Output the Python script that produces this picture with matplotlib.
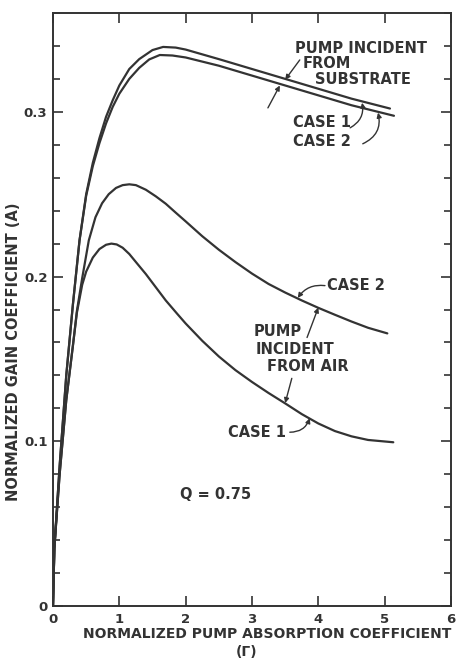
import matplotlib
matplotlib.use("Agg")
import matplotlib.pyplot as plt

# ---- data ----
sub1_x = [0, 0.02, 0.1, 0.2, 0.3, 0.4, 0.5, 0.6, 0.7, 0.8, 0.9, 1.0, 1.15, 1.3, 1.5, 1.66, 1.85, 2.0, 2.5, 3.0, 3.5, 4.0, 4.5, 5.08]
sub1_A = [0, 0.035, 0.085, 0.14, 0.183, 0.222, 0.25, 0.269, 0.284, 0.297, 0.307, 0.316, 0.326, 0.332, 0.3375, 0.3394, 0.339, 0.3378, 0.332, 0.326, 0.320, 0.314, 0.308, 0.302]

sub2_x = [0, 0.02, 0.1, 0.2, 0.3, 0.4, 0.5, 0.6, 0.7, 0.8, 0.9, 1.0, 1.15, 1.3, 1.45, 1.61, 1.8, 2.0, 2.5, 3.0, 3.5, 4.0, 4.5, 5.14]
sub2_A = [0, 0.035, 0.085, 0.14, 0.183, 0.222, 0.249, 0.267, 0.281, 0.293, 0.303, 0.311, 0.320, 0.3267, 0.3318, 0.3345, 0.3342, 0.333, 0.328, 0.322, 0.316, 0.310, 0.304, 0.2976]

air2_x = [0, 0.02, 0.1, 0.2, 0.3, 0.36, 0.44, 0.54, 0.64, 0.74, 0.84, 0.95, 1.05, 1.15, 1.25, 1.4, 1.55, 1.7, 1.85, 2.0, 2.25, 2.5, 2.75, 3.0, 3.25, 3.5, 3.75, 4.0, 4.25, 4.5, 4.75, 5.04]
air2_A = [0, 0.035, 0.08, 0.125, 0.158, 0.179, 0.199, 0.222, 0.236, 0.2445, 0.250, 0.2538, 0.2555, 0.256, 0.2555, 0.2527, 0.2487, 0.2442, 0.2388, 0.2335, 0.2245, 0.2163, 0.2088, 0.2018, 0.1955, 0.1903, 0.1855, 0.1810, 0.1768, 0.1727, 0.1689, 0.1655]

air1_x = [0, 0.02, 0.1, 0.2, 0.3, 0.36, 0.44, 0.5, 0.6, 0.7, 0.8, 0.88, 0.96, 1.05, 1.15, 1.25, 1.4, 1.55, 1.7, 1.87, 2.0, 2.25, 2.5, 2.75, 3.0, 3.25, 3.5, 3.75, 4.0, 4.25, 4.5, 4.75, 5.13]
air1_A = [0, 0.035, 0.08, 0.125, 0.158, 0.178, 0.195, 0.203, 0.2115, 0.2167, 0.2193, 0.220, 0.2195, 0.2175, 0.2137, 0.2088, 0.2015, 0.1935, 0.1855, 0.1775, 0.1715, 0.1610, 0.1515, 0.1432, 0.1360, 0.1293, 0.1230, 0.1165, 0.1108, 0.1062, 0.1030, 0.1008, 0.0994]

x_ticks = [0, 1, 2, 3, 4, 5, 6]
x_ticklabels = ["0", "1", "2", "3", "4", "5", "6"]
y_ticks = [0, 0.1, 0.2, 0.3]
y_ticklabels = ["0", "0.1", "0.2", "0.3"]

INK = "#333333"
W, H = 476, 662
fig = plt.figure(figsize=(W / 100, H / 100), dpi=100)
ax = fig.add_axes([53 / W, 1 - 606 / H, (451 - 53) / W, (606 - 13) / H])

for xs, ys in [(sub1_x, sub1_A), (sub2_x, sub2_A), (air2_x, air2_A), (air1_x, air1_A)]:
    ax.plot(xs, ys, color=INK, lw=1.6, solid_capstyle="round", solid_joinstyle="round")

ax.set_xlim(0, 6)
ax.set_ylim(0, 0.36)
ax.set_xticks(x_ticks)
ax.set_xticklabels(x_ticklabels)
ax.set_yticks(y_ticks)
ax.set_yticklabels(y_ticklabels)
ax.set_yticks([i * 0.02 for i in range(19)], minor=True)
ax.tick_params(axis="both", which="major", direction="in", length=7, width=1.2,
               color=INK, labelcolor=INK, labelsize=9.5, top=True, right=True)
ax.tick_params(axis="y", which="minor", direction="in", length=5, width=1.2,
               color=INK, left=True, right=True)
ax.tick_params(axis="x", which="major", pad=5)
ax.tick_params(axis="y", which="major", pad=4)
for lab in ax.get_xticklabels() + ax.get_yticklabels():
    lab.set_fontweight("bold")
for s in ax.spines.values():
    s.set_color(INK)
    s.set_linewidth(1.4)

tk = dict(color=INK, fontsize=10.5, fontweight="bold", ha="left", va="center")
ax.text(3.65, 0.3385, "PUMP INCIDENT", **tk)
ax.text(3.77, 0.3294, "FROM", **tk)
ax.text(3.95, 0.3194, "SUBSTRATE", **tk)
ax.text(3.62, 0.2936, "CASE 1", **tk)
ax.text(3.62, 0.2821, "CASE 2", **tk)
ax.text(4.13, 0.1945, "CASE 2", **tk)
ax.text(3.02, 0.1667, "PUMP", **tk)
ax.text(3.06, 0.1558, "INCIDENT", **tk)
ax.text(3.23, 0.1455, "FROM AIR", **tk)
ax.text(2.64, 0.1055, "CASE 1", **tk)
ax.text(1.91, 0.0679, "Q = 0.75", **tk)

ap = dict(arrowstyle="-|>", color=INK, lw=1.0, mutation_scale=7, shrinkA=0, shrinkB=0)
ax.annotate("", xy=(3.50, 0.3195), xytext=(3.72, 0.3315), arrowprops=ap)
ax.annotate("", xy=(3.42, 0.3160), xytext=(3.24, 0.3024), arrowprops=ap)
ax.annotate("", xy=(4.66, 0.3055), xytext=(4.48, 0.2903),
            arrowprops=dict(ap, connectionstyle="arc3,rad=0.35"))
ax.annotate("", xy=(4.90, 0.2995), xytext=(4.67, 0.2806),
            arrowprops=dict(ap, connectionstyle="arc3,rad=0.4"))
ax.annotate("", xy=(3.69, 0.1870), xytext=(4.10, 0.1945),
            arrowprops=dict(ap, connectionstyle="arc3,rad=0.3"))
ax.annotate("", xy=(4.0, 0.1812), xytext=(3.83, 0.1630), arrowprops=ap)
ax.annotate("", xy=(3.50, 0.1232), xytext=(3.60, 0.1382), arrowprops=ap)
ax.annotate("", xy=(3.87, 0.1140), xytext=(3.57, 0.1055),
            arrowprops=dict(ap, connectionstyle="arc3,rad=0.35"))

fig.text(267 / W, 1 - 634 / H, "NORMALIZED PUMP ABSORPTION COEFFICIENT",
         color=INK, fontsize=10, fontweight="bold", ha="center", va="center")
fig.text(247 / W, 1 - 652 / H, "(\u0393)",
         color=INK, fontsize=10, fontweight="bold", ha="center", va="center")
fig.text(14 / W, 1 - 352 / H, "NORMALIZED GAIN COEFFICIENT (A)",
         color=INK, fontsize=10.5, fontweight="bold", ha="center", va="center", rotation=90)

fig.savefig("out.png", dpi=100, facecolor="white")
